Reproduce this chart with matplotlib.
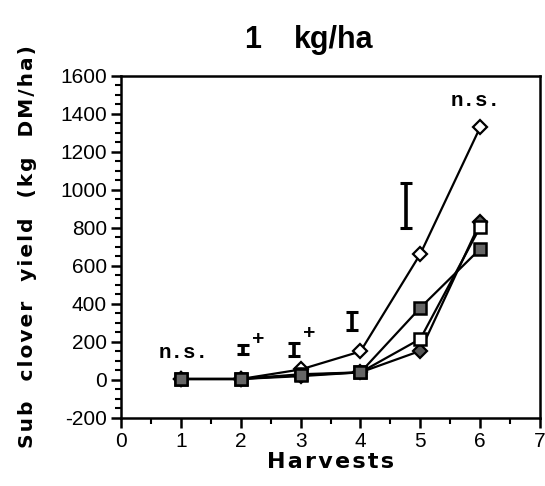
import matplotlib
matplotlib.use('Agg')
import matplotlib.pyplot as plt
from matplotlib.ticker import MultipleLocator

plt.rcParams['axes.unicode_minus'] = False

# harvests and sub clover yield (kg DM/ha)
harvests = [1, 2, 3, 4, 5, 6]
open_diamond = [5, 5, 55, 150, 663, 1330]
dark_diamond = [5, 5, 20, 40, 153, 830]
open_square = [5, 5, 30, 40, 216, 805]
dark_square = [5, 5, 25, 40, 380, 690]

# LSD bars: x position, centre, half length
lsd_x = [2.04, 2.89, 3.86, 4.76]
lsd_mid = [160, 160, 310, 918]
lsd_half = [25, 35, 47, 118]

fig = plt.figure(figsize=(5.45, 4.86), dpi=100)
ax = fig.add_axes([0.222, 0.14, 0.769, 0.704])

lw = 1.6
ax.plot(harvests, open_diamond, color='black', lw=lw, marker='D', ms=7,
        mfc='white', mec='black', mew=1.6, zorder=3)
ax.plot(harvests, dark_diamond, color='black', lw=lw, marker='D', ms=7,
        mfc='#555555', mec='black', mew=1.6, zorder=3)
ax.plot(harvests, open_square, color='black', lw=lw, marker='s', ms=8,
        mfc='white', mec='black', mew=1.8, zorder=3)
ax.plot(harvests, dark_square, color='black', lw=lw, marker='s', ms=8,
        mfc='#666666', mec='black', mew=1.8, zorder=3)

ax.errorbar(lsd_x, lsd_mid, yerr=lsd_half, fmt='none', ecolor='black',
            elinewidth=2.6, capsize=4, capthick=2.2)

mono = dict(family='Liberation Mono', fontweight='bold', fontsize=15)
ax.text(1.05, 142, 'n.s.', ha='center', va='center', **mono)
ax.text(5.93, 1468, 'n.s.', ha='center', va='center', **mono)
ax.text(2.3, 215, '+', ha='center', va='center', **mono)
ax.text(3.15, 245, '+', ha='center', va='center', **mono)

ax.set_xlim(0, 7)
ax.set_ylim(-200, 1600)
ax.xaxis.set_major_locator(MultipleLocator(1))
ax.xaxis.set_minor_locator(MultipleLocator(0.5))
ax.yaxis.set_major_locator(MultipleLocator(200))
ax.yaxis.set_minor_locator(MultipleLocator(50))
ax.tick_params(which='major', direction='out', length=7, width=1.8,
               labelsize=15, pad=3)
ax.tick_params(which='minor', direction='out', length=4, width=1.5)
for lab in ax.get_xticklabels() + ax.get_yticklabels():
    lab.set_family('Liberation Sans')
for s in ax.spines.values():
    s.set_linewidth(1.8)

sp = '\u200a'
ylab = 'Sub  clover  yield  (kg  DM/ha)'
ax.set_ylabel(sp.join(ylab), family='DejaVu Sans', fontweight='bold',
              fontsize=14.5, labelpad=2)
ax.yaxis.set_label_coords(-0.2, 0.5)
ax.set_xlabel(sp.join('Harvests'), family='DejaVu Sans', fontweight='bold',
              fontsize=16, labelpad=1)
fig.text(0.463, 0.918, '1', ha='center', va='center',
         family='Liberation Sans', fontweight='bold', fontsize=22)
fig.text(0.612, 0.918, 'kg/ha', ha='center', va='center',
         family='Liberation Sans', fontweight='bold', fontsize=22)

fig.savefig('out.png', dpi=100)
